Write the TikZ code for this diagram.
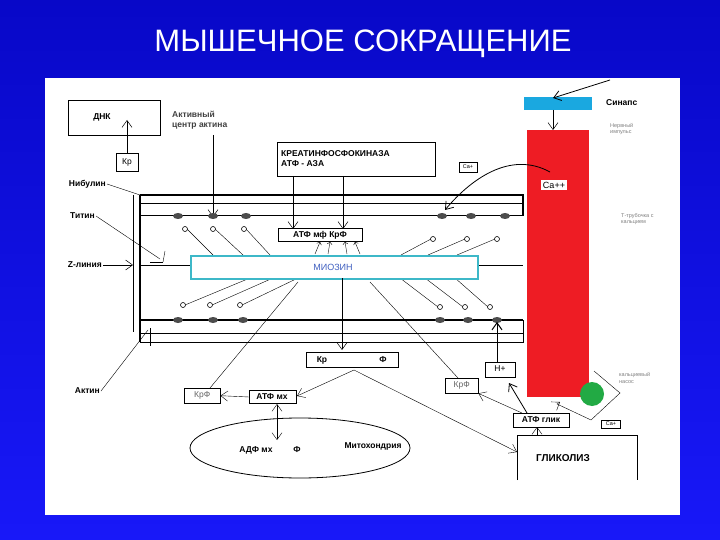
\documentclass[tikz,border=0pt]{standalone}
\usepackage{fontspec}
\setmainfont{Liberation Sans}
\usetikzlibrary{arrows.meta}
\definecolor{bgtop}{HTML}{0808C8}
\definecolor{bgbot}{HTML}{1818F8}
\definecolor{syn}{HTML}{1AA8E0}
\definecolor{redbar}{HTML}{EE1C24}
\definecolor{pump}{HTML}{22AA44}
\definecolor{myo}{HTML}{3DB8C8}
\definecolor{myotext}{HTML}{4060C0}
\tikzset{
 lab/.style={font=\bfseries\fontsize{8.5}{10}\selectfont,inner sep=1pt},
 bx/.style={draw,line width=1pt,font=\bfseries\fontsize{8.5}{10}\selectfont,inner sep=0pt,anchor=north west},
 grey/.style={font=\fontsize{5.5}{6.5}\selectfont,text=gray,align=left,inner sep=0pt,anchor=west},
 arr/.style={-{Straight Barb[length=7pt,width=10pt]},line width=0.5pt},
 thin/.style={line width=0.4pt},
 dot/.style={fill=black!70,draw=none},
 head/.style={draw,line width=0.6pt,fill=white}
}
\begin{document}
\begin{tikzpicture}[x=1pt,y=-1pt]
\useasboundingbox (0,0) rectangle (720,540);
\shade[top color=bgtop,bottom color=bgbot] (0,0) rectangle (720,540);
\node[text=white,font=\fontsize{31}{34}\selectfont] (title) at (363,44) {МЫШЕЧНОЕ СОКРАЩЕНИЕ};
\fill[white] (45,78) rectangle (680,515);
% DNK
\node[bx,minimum width=92pt,minimum height=35pt] (dnk) at (68,100) {};
\node[lab] (dnkt) at (102,117) {ДНК};
\node[draw,thin,lab,font=\fontsize{8.5}{10}\selectfont,minimum width=22pt,minimum height=18pt] (kr1) at (127,162) {Кр};
\draw[arr] (kr1.north) -- (127,120);
\node[lab,anchor=west,align=left,text=black!75] (act) at (171,120) {Активный\\центр актина};
\coordinate (actd) at (213,217);
\draw[arr] (213,135) -- (actd);
% kinase
\node[bx,minimum width=158pt,minimum height=34pt] (kin) at (277,142) {};
\node[lab,anchor=west,align=left] (kint) at (280,159) {КРЕАТИНФОСФОКИНАЗА\\АТФ - АЗА};
\coordinate (k1) at (293,229); \coordinate (k2) at (343,229);
\draw[arr] (293,176) -- (k1);
\draw[arr] (343,176) -- (k2);
\node[draw,thin,font=\fontsize{5.5}{6}\selectfont,minimum width=18pt,minimum height=10pt,inner sep=0pt] (cap) at (468,167) {Ca+};
% synapse
\fill[syn] (524,97) rectangle (592,110);
\node[lab,anchor=west] (sin) at (605,103) {Синапс};
\coordinate (synt) at (553,98);
\draw[arr,line width=0.8pt] (610,80) -- (synt);
\fill[redbar] (527,130) rectangle (589,397);
\draw[arr] (553,110) -- (553,130);
\node[fill=white,lab,font=\fontsize{9}{10}\selectfont,inner sep=2pt] (ca) at (554,185) {Ca++};
\draw[arr,line width=0.8pt] (550,172) .. controls (510,150) and (470,180) .. (445,210);
\node[grey] (imp) at (610,129) {Нервный\\импульс};
\node[grey] (tt) at (621,219) {Т-трубочка с\\кальцием};
\node[grey] (nas) at (619,378) {кальциевый\\насос};
% sarcomere frame
\draw[line width=1.4pt] (140,195) -- (523,195) -- (523,216);
\draw[thin] (140,203) -- (523,203);
\draw[line width=1pt] (140,216) -- (523,216);
\draw[line width=1.4pt] (140,320) -- (523,320);
\draw[thin] (140,333) -- (523,333);
\draw[line width=1pt] (140,342) -- (523,342) -- (523,320);
\draw[line width=1.2pt] (140,195) -- (140,342);
\draw[line width=0.8pt] (133,195) -- (133,332);
\draw[thin] (140,265) -- (523,265);
% dots
\foreach \x in {178,213,246,442,471,505}{\fill[dot] (\x,216) ellipse (5 and 3);}
\foreach \x in {178,213,243,440,468,497}{\fill[dot] (\x,320) ellipse (5 and 3);}
% myosin heads
\foreach \a/\b in {185/213,213/243,244/270}{\draw[thin] (\a+2,229) -- (\b,255); \draw[head] (\a,229) circle (2.5);}
\foreach \a/\b in {433/401,467/428,497/457}{\draw[thin] (\b,255) -- (\a-2,239); \draw[head] (\a,239) circle (2.5);}
\foreach \a/\b in {183/250,210/273,240/298}{\draw[thin] (\b,278) -- (\a+2,305); \draw[head] (\a,305) circle (2.5);}
\foreach \a/\b in {440/400,465/425,490/455}{\draw[thin] (\b,278) -- (\a-2,307); \draw[head] (\a,307) circle (2.5);}
\node[draw=myo,line width=1.5pt,fill=white,minimum width=287pt,minimum height=23pt,anchor=north west] (myo) at (190,255) {};
\node[text=myotext,font=\fontsize{9}{10}\selectfont] (myot) at (333,267) {МИОЗИН};
\node[bx,minimum width=84pt,minimum height=13pt] (atfmf) at (278,228) {};
\node[lab] (atfmft) at (320,235) {АТФ мф\ КрФ};
\foreach \x/\y in {320/315,330/328,345/347,355/360}{\draw[thin,->] (\y,254) -- (\x,242);}
% left labels
\node[lab,anchor=east] (nib) at (107,184) {Нибулин};
\draw[thin] (nib.east) -- (140,195);
\node[lab,anchor=east] (tit) at (96,216) {Титин};
\draw[thin] (tit.east) -- (160,259);
\draw[line width=1pt] (150,262) -- (163,262);
\draw[thin] (163,262) -- (165,251);
\node[lab,anchor=east] (zl) at (103,265) {Z-линия};
\draw[arr] (zl.east) -- (133,265);
\node[lab,anchor=east] (akt) at (101,391) {Актин};
\draw[thin] (akt.east) -- (148,330);
\draw[thin] (150,328) -- (150,346);
% Kr F box
\draw[arr] (342,278) -- (342,350);
\node[bx,minimum width=92pt,minimum height=15pt] (krf) at (306,352) {};
\node[lab] (krt) at (322,360) {Кр};
\node[lab] (ft) at (383,360) {Ф};
\coordinate (krb) at (354,370);
\draw[arr,thin] (krb) -- (297,396);
\draw[arr,thin] (krb) -- (517,452);
% left KrF etc
\node[draw,thin,anchor=north west,minimum width=36pt,minimum height=15pt,inner sep=0pt,text=black!60,lab,font=\fontsize{8.5}{10}\selectfont] (krfl) at (184,388) {КрФ};
\node[bx,minimum width=47pt,minimum height=13pt] (atfmx) at (249,390) {};
\node[lab] (atfmxt) at (272,397) {АТФ мх};
\draw[arr,thin] (atfmx.west) -- (krfl.east);
\draw[thin] (298,282) -- (210,388);
\draw[thin] (370,282) -- (458,378);
\draw[{Straight Barb[length=7pt,width=10pt]}-{Straight Barb[length=7pt,width=10pt]},thin] (277,404) -- (277,440);
\draw[line width=0.8pt] (300,448) ellipse (110 and 30);
\node[lab] (adf) at (256,450) {АДФ мх};
\node[lab] (fm) at (297,450) {Ф};
\node[lab] (mito) at (373,446) {Митохондрия};
% right lower
\node[draw,thin,anchor=north west,minimum width=33pt,minimum height=15pt,inner sep=0pt,text=black!60,lab,font=\fontsize{8.5}{10}\selectfont] (krfr) at (445,378) {КрФ};
\node[bx,minimum width=30pt,minimum height=15pt] (hp) at (485,362) {};
\node[font=\fontsize{8.5}{10}\selectfont] (hpt) at (500,369) {Н+};
\draw[arr,line width=1pt] (497,362) -- (497,322);
\node[bx,minimum width=56pt,minimum height=14pt] (atfg) at (513,413) {};
\node[lab] (atfgt) at (541,420) {АТФ глик};
\draw[arr,thin] (522,413) -- (krfr.south east);
\draw[arr,line width=0.8pt] (527,413) -- (509,383);
\fill[pump] (592,394) circle (12);
\draw[arr,thin] (594,371) -- (620,393) -- (591,420) -- (557,404) -- (560,402);
\node[draw,thin,font=\fontsize{5.5}{6}\selectfont,minimum width=19pt,minimum height=8pt,inner sep=0pt] (cab) at (611,424) {Ca+};
\draw[thin] (517,480) -- (517,435) -- (637,435) -- (637,480);
\node[lab,font=\bfseries\fontsize{10}{11}\selectfont] (gl) at (563,458) {ГЛИКОЛИЗ};
\draw[arr,thin] (537,435) -- (537,427);
\end{tikzpicture}
\end{document}
